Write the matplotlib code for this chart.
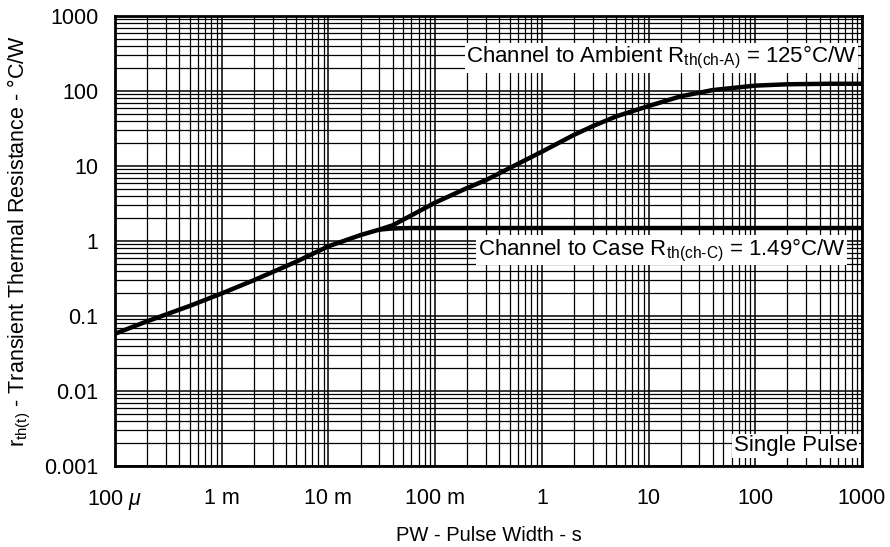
import numpy as np
import matplotlib
matplotlib.use("Agg")
import matplotlib.pyplot as plt
from matplotlib.ticker import LogLocator, FixedLocator, NullFormatter

plt.rcParams['font.family'] = ['Liberation Sans', 'DejaVu Sans']
plt.rcParams['mathtext.fontset'] = 'custom'
plt.rcParams['mathtext.rm'] = 'Liberation Sans'
plt.rcParams['mathtext.it'] = 'Liberation Sans:italic'

# pulse width (s) and transient thermal resistance (°C/W)
pw_common = [1e-4, 2e-4, 5e-4, 1e-3, 2e-3, 5e-3, 1e-2, 2e-2, 3e-2]
r_common = [0.058, 0.085, 0.136, 0.20, 0.30, 0.53, 0.85, 1.20, 1.42]

pw_case = [3e-2, 4e-2, 6e-2, 1e-1, 1.0, 10.0, 100.0, 1000.0]
r_case = [1.42, 1.47, 1.49, 1.49, 1.49, 1.49, 1.49, 1.49]

pw_amb = [3e-2, 4e-2, 6e-2, 1e-1, 2e-1, 3e-1, 5e-1, 1.0, 2.0, 3.0, 5.0,
          10.0, 20.0, 40.0, 100.0, 200.0, 500.0, 1000.0]
r_amb = [1.42, 1.62, 2.2, 3.25, 5.1, 6.5, 9.4, 15.5, 26.0, 34.0, 46.0,
         63.0, 85.0, 103.0, 118.0, 123.0, 125.0, 125.0]

x_ticks = [1e-4, 1e-3, 1e-2, 1e-1, 1, 10, 100, 1000]
x_labels = ['100 $\\mu$', '1 m', '10 m', '100 m', '1', '10', '100', '1000']
y_ticks = [1e-3, 1e-2, 1e-1, 1, 10, 100, 1000]
y_labels = ['0.001', '0.01', '0.1', '1', '10', '100', '1000']

fig = plt.figure(figsize=(8.9, 5.47), dpi=100)
ax = fig.add_axes([0.1292, 0.1481, 0.8393, 0.8226])
ax.set_xscale('log')
ax.set_yscale('log')
ax.set_xlim(1e-4, 1e3)
ax.set_ylim(1e-3, 1e3)

ax.xaxis.set_major_locator(FixedLocator(x_ticks))
ax.yaxis.set_major_locator(FixedLocator(y_ticks))
ax.set_xticklabels(x_labels)
ax.set_yticklabels(y_labels)
ax.xaxis.set_minor_locator(LogLocator(base=10, subs=np.arange(2, 10), numticks=100))
ax.yaxis.set_minor_locator(LogLocator(base=10, subs=np.arange(2, 10), numticks=100))
ax.xaxis.set_minor_formatter(NullFormatter())
ax.yaxis.set_minor_formatter(NullFormatter())
ax.tick_params(which='both', length=0, labelsize=15.5, colors='black')
ax.tick_params(axis='x', pad=16)
ax.tick_params(axis='y', pad=12)

ax.grid(which='major', color='black', linewidth=1.1)
ax.grid(which='minor', color='black', linewidth=0.9)
ax.set_axisbelow(True)
for s in ax.spines.values():
    s.set_linewidth(2)

ax.plot(pw_common, r_common, color='black', lw=3.2, solid_capstyle='butt', zorder=3)
ax.plot(pw_case, r_case, color='black', lw=3.2, solid_capstyle='butt', zorder=3)
ax.plot(pw_amb, r_amb, color='black', lw=3.2, solid_capstyle='butt', zorder=3)

box = dict(facecolor='white', edgecolor='none', pad=1.0)
ax.text(0.993, 0.907, 'Channel to Ambient R$_{\\mathregular{th(ch\\text{-}A)}}$ = 125°C/W',
        transform=ax.transAxes, ha='right', va='center', fontsize=16, bbox=box, zorder=4)
ax.text(0.978, 0.48, 'Channel to Case R$_{\\mathregular{th(ch\\text{-}C)}}$ = 1.49°C/W',
        transform=ax.transAxes, ha='right', va='center', fontsize=16, bbox=box, zorder=4)
ax.text(0.994, 0.045, 'Single Pulse', transform=ax.transAxes, ha='right', va='center',
        fontsize=16, bbox=box, zorder=4)

ax.set_xlabel('PW - Pulse Width - s', fontsize=14.5, labelpad=10)
ax.set_ylabel('r$_{\\mathregular{th(t)}}$ - Transient Thermal Resistance - °C/W',
              fontsize=15.5, labelpad=8)

fig.savefig('out.png', dpi=100)
